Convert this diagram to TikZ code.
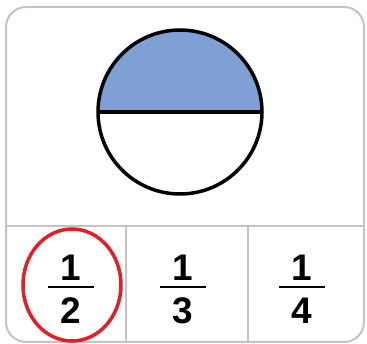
\documentclass[tikz,border=0pt]{standalone}
\usepackage{fontspec}
\setmainfont{Liberation Sans}
\definecolor{fillblue}{HTML}{7FA0D4}
\definecolor{framegray}{HTML}{C4C4C4}
\definecolor{markred}{HTML}{E41E26}
\begin{document}
\begin{tikzpicture}[x=1pt,y=-1pt,
  frame/.style={draw=framegray,line width=2pt},
  digit/.style={font=\fontsize{37}{37}\selectfont\bfseries,inner sep=0pt,anchor=center},
  fracbar/.style={line width=2pt}]
\useasboundingbox (0,0) rectangle (367,344);
% outer frame
\draw[frame,rounded corners=20pt] (6,7) rectangle (364,342);
\draw[frame] (6,226) -- (364,226);
\draw[frame] (126,226) -- (126,342);
\draw[frame] (248,226) -- (248,342);
% circle
\coordinate (c) at (180,112);
\fill[fillblue] (262,112) arc[start angle=0,end angle=-180,radius=82] -- cycle;
\draw[line width=3.5pt] (c) circle[radius=82];
\draw[line width=3.5pt] (98,112) -- (262,112);
% fractions
\node[digit] (n1) at (71,268) {1};
\node[digit] (d1) at (71,311) {2};
\draw[fracbar] (48,287) -- (94,287);
\node[digit] (n2) at (183,268) {1};
\node[digit] (d2) at (183,311) {3};
\draw[fracbar] (160,287) -- (206,287);
\node[digit] (n3) at (302,268) {1};
\node[digit] (d3) at (302,311) {4};
\draw[fracbar] (279,287) -- (325,287);
% red ellipse
\draw[markred,line width=3.5pt] (72,285) ellipse[x radius=49,y radius=56];
\end{tikzpicture}
\end{document}
